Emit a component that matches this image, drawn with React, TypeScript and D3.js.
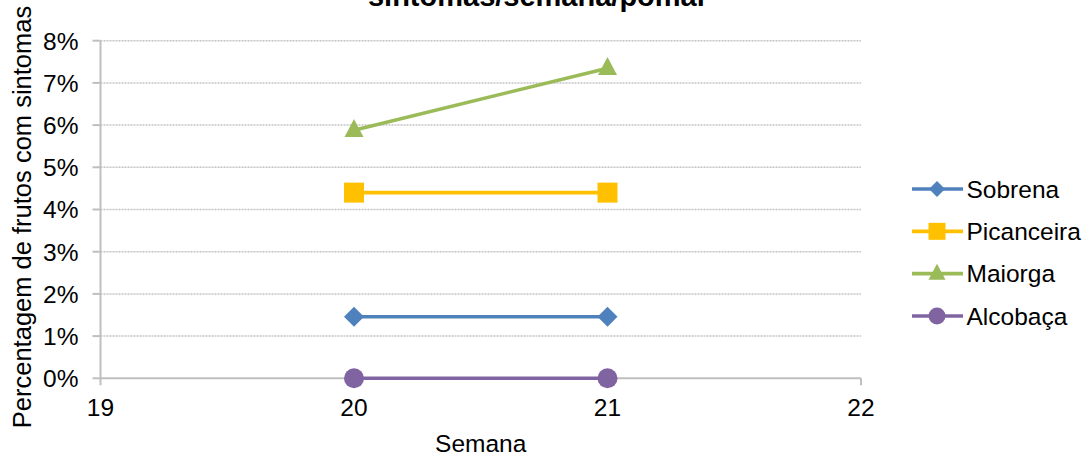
import React from "react";
import * as d3 from "d3";

const weeks = [20, 21];
const seriesNames = ["Sobrena", "Picanceira", "Maiorga", "Alcobaça"];
const sobrena = [1.46, 1.46];
const picanceira = [4.4, 4.4];
const maiorga = [5.88, 7.35];
const alcobaca = [0, 0];
const yTicks = [0, 1, 2, 3, 4, 5, 6, 7, 8];
const xTicks = [19, 20, 21, 22];
const colors = ["#4F81BD", "#FFC000", "#9BBB59", "#8064A2"];
const markerTypes = ["diamond", "square", "triangle", "circle"];
const titleText = "sintomas/semana/pomar";
const xLabel = "Semana";
const yLabel = "Percentagem de frutos com sintomas";

const W = 1086;
const H = 454;
const FONT = "'Liberation Sans', Arial, Helvetica, sans-serif";

function markerPath(type: string, s: number): string {
  const p = d3.path();
  const h = s / 2;
  if (type === "diamond") {
    p.moveTo(0, -h); p.lineTo(h, 0); p.lineTo(0, h); p.lineTo(-h, 0); p.closePath();
  } else if (type === "square") {
    p.rect(-h, -h, s, s);
  } else if (type === "triangle") {
    const th = s * 0.95;
    p.moveTo(0, -th * 0.62); p.lineTo(h, th * 0.38); p.lineTo(-h, th * 0.38); p.closePath();
  } else {
    p.arc(0, 0, h, 0, Math.PI * 2);
  }
  return p.toString();
}

export default function App() {
  const x = d3.scaleLinear().domain([19, 22]).range([100.5, 861]);
  const y = d3.scaleLinear().domain([0, 8]).range([378.3, 40.7]);
  const data = [sobrena, picanceira, maiorga, alcobaca];
  const line = d3
    .line<number>()
    .x((_, i) => x(weeks[i]))
    .y((d) => y(d));
  const markerSize = [20, 20, 19, 20];
  const legendSize = [16, 17, 17, 17];
  const legendY = d3.scalePoint<string>().domain(seriesNames).range([189, 316]);

  return (
    <svg
      width={W}
      height={H}
      style={{ position: "fixed", left: 0, top: 0, background: "#fff" }}
      fontFamily={FONT}
    >
      <rect width={W} height={H} fill="#fff" />
      <text x={538} y={6} textAnchor="middle" fontWeight="bold" fontSize={29} fill="#000">
        {titleText}
      </text>
      {yTicks.slice(1).map((t) => (
        <line key={"g" + t} x1={x(19)} x2={x(22)} y1={y(t)} y2={y(t)} stroke="#c4c4c4" strokeWidth={1.5} strokeDasharray="2 1" />
      ))}
      <line x1={x(19)} x2={x(19)} y1={y(8)} y2={y(0)} stroke="#bfbfbf" strokeWidth={2} />
      <line x1={x(19)} x2={x(22)} y1={y(0)} y2={y(0)} stroke="#bfbfbf" strokeWidth={2} />
      {yTicks.map((t) => (
        <g key={"yt" + t}>
          <line x1={x(19) - 8} x2={x(19)} y1={y(t)} y2={y(t)} stroke="#bfbfbf" strokeWidth={2} />
          <text x={78.5} y={y(t)} dy="0.36em" textAnchor="end" fontSize={24.5} fill="#000">
            {t + "%"}
          </text>
        </g>
      ))}
      {xTicks.map((t) => (
        <g key={"xt" + t}>
          <line x1={x(t)} x2={x(t)} y1={y(0)} y2={y(0) + 7} stroke="#bfbfbf" strokeWidth={2} />
          <text x={x(t)} y={415.5} textAnchor="middle" fontSize={24.5} fill="#000">
            {t}
          </text>
        </g>
      ))}
      <text x={(x(19) + x(22)) / 2} y={451.5} textAnchor="middle" fontSize={24.5} fill="#000">
        {xLabel}
      </text>
      <text transform="translate(31,217) rotate(-90)" textAnchor="middle" fontSize={25.5} fill="#000">
        {yLabel}
      </text>
      {data.map((vals, si) => (
        <g key={"s" + si}>
          <path d={line(vals) || ""} fill="none" stroke={colors[si]} strokeWidth={3.6} />
          {vals.map((v, i) => (
            <path
              key={i}
              d={markerPath(markerTypes[si], markerSize[si])}
              transform={`translate(${x(weeks[i])},${y(v)})`}
              fill={colors[si]}
            />
          ))}
        </g>
      ))}
      {seriesNames.map((n, si) => {
        const ly = legendY(n) as number;
        return (
          <g key={"l" + n}>
            <line x1={912} x2={963} y1={ly} y2={ly} stroke={colors[si]} strokeWidth={3.6} />
            <path d={markerPath(markerTypes[si], legendSize[si])} transform={`translate(937,${ly})`} fill={colors[si]} />
            <text x={966.5} y={ly} dy="0.36em" fontSize={24.5} fill="#000">
              {n}
            </text>
          </g>
        );
      })}
    </svg>
  );
}
